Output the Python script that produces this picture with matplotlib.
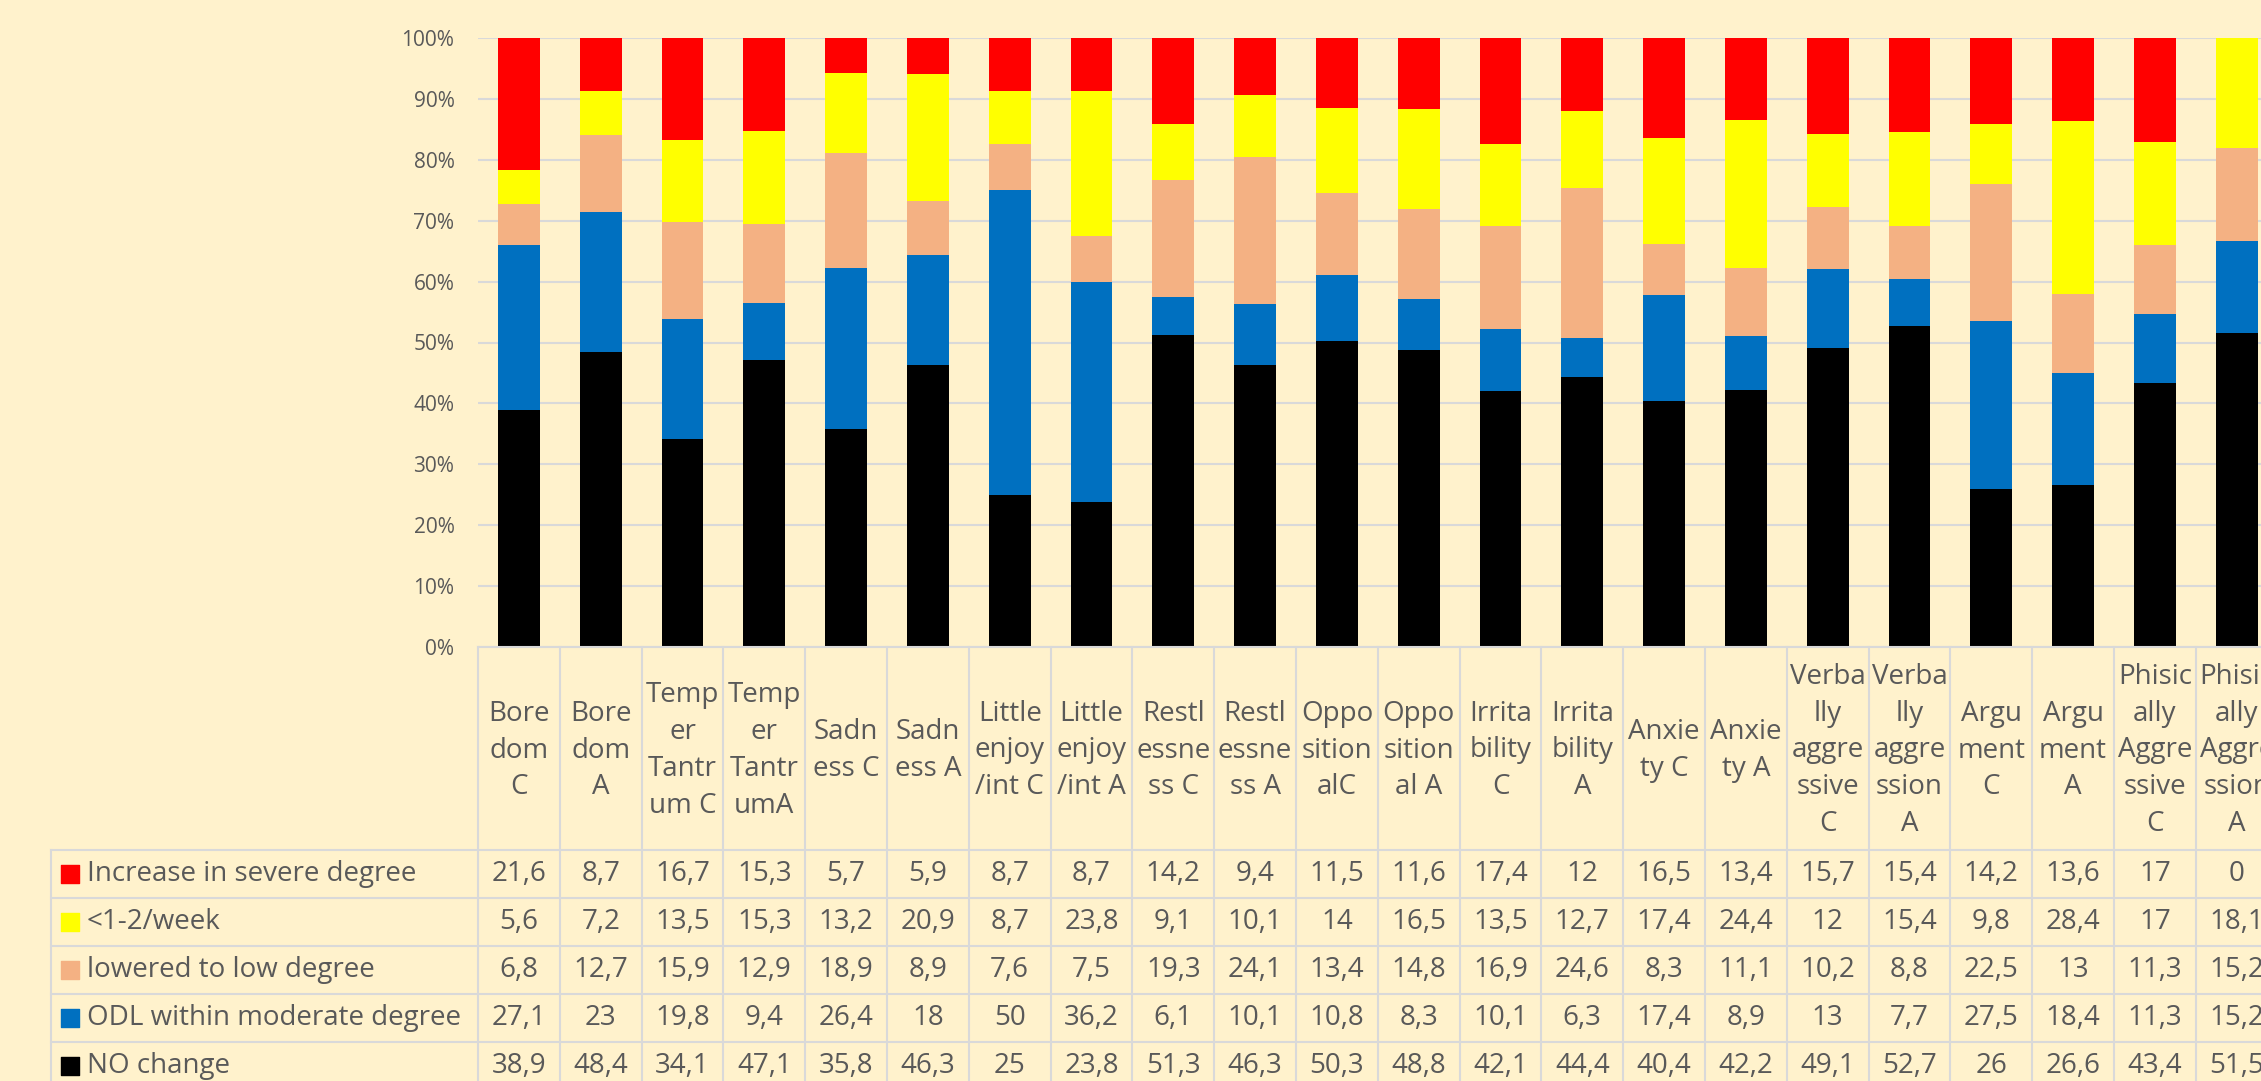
import numpy as np
import matplotlib.pyplot as plt

plt.rcParams['font.family'] = ['Open Sans', 'DejaVu Sans']

# category labels, wrapped the way the source table wraps them
labels = ["Bore\ndom\nC", "Bore\ndom\nA", "Temp\ner\nTantr\num C", "Temp\ner\nTantr\numA",
          "Sadn\ness C", "Sadn\ness A", "Little\nenjoy\n/int C", "Little\nenjoy\n/int A",
          "Restl\nessne\nss C", "Restl\nessne\nss A", "Oppo\nsition\nalC", "Oppo\nsition\nal A",
          "Irrita\nbility\nC", "Irrita\nbility\nA", "Anxie\nty C", "Anxie\nty A",
          "Verba\nlly\naggre\nssive\nC", "Verba\nlly\naggre\nssion\nA", "Argu\nment\nC", "Argu\nment\nA",
          "Phisic\nally\nAggre\nssive\nC", "Phisic\nally\nAggre\nssion\nA"]

increase = [21.6, 8.7, 16.7, 15.3, 5.7, 5.9, 8.7, 8.7, 14.2, 9.4, 11.5, 11.6, 17.4, 12, 16.5, 13.4,
            15.7, 15.4, 14.2, 13.6, 17, 0]
weekly = [5.6, 7.2, 13.5, 15.3, 13.2, 20.9, 8.7, 23.8, 9.1, 10.1, 14, 16.5, 13.5, 12.7, 17.4, 24.4,
          12, 15.4, 9.8, 28.4, 17, 18.1]
lowered = [6.8, 12.7, 15.9, 12.9, 18.9, 8.9, 7.6, 7.5, 19.3, 24.1, 13.4, 14.8, 16.9, 24.6, 8.3, 11.1,
           10.2, 8.8, 22.5, 13, 11.3, 15.2]
odl = [27.1, 23, 19.8, 9.4, 26.4, 18, 50, 36.2, 6.1, 10.1, 10.8, 8.3, 10.1, 6.3, 17.4, 8.9,
       13, 7.7, 27.5, 18.4, 11.3, 15.2]
no_change = [38.9, 48.4, 34.1, 47.1, 35.8, 46.3, 25, 23.8, 51.3, 46.3, 50.3, 48.8, 42.1, 44.4, 40.4, 42.2,
             49.1, 52.7, 26, 26.6, 43.4, 51.5]

series_names = ["Increase in severe degree", "<1-2/week", "lowered to low degree",
                "ODL within moderate degree", "NO change"]
series_vals = [increase, weekly, lowered, odl, no_change]
colors = ['#FF0000', '#FFFF00', '#F4B183', '#0070C0', '#000000']

BG = '#FFF2CC'
TXT = '#595959'
LINE = '#D9D9D9'
FS = 20

W, H = 2261, 1081
fig = plt.figure(figsize=(W / 100, H / 100), dpi=100, facecolor=BG)

col_w = 81.8
left = 478
base_y = 647
ax = fig.add_axes([left / W, (H - base_y) / H, 22 * col_w / W, (base_y - 38) / H])
ax.set_facecolor('none')

x = np.arange(len(labels))
data = np.array(series_vals, dtype=float)
totals = data.sum(axis=0)
bottom = np.zeros(len(labels))
# stack from the bottom row of the table upwards
for vals, color in zip(data[::-1], colors[::-1]):
    frac = vals / totals
    ax.bar(x, frac, 0.51, bottom=bottom, color=color, zorder=3)
    bottom += frac

ax.set_xlim(-0.5, len(labels) - 0.5)
ax.set_ylim(0, 1)
ticks = np.arange(0, 1.01, 0.1)
ax.set_yticks(ticks)
ax.set_yticklabels([f'{int(round(t * 100))}%' for t in ticks])
ax.tick_params(axis='y', length=0, pad=17, labelsize=15, labelcolor=TXT)
ax.set_xticks([])
ax.yaxis.grid(True, color=LINE, lw=1.5)
ax.set_axisbelow(True)
for s in ax.spines.values():
    s.set_visible(False)

# data table under the plot
tab = fig.add_axes([51 / W, 0, (left + 22 * col_w - 51) / W, (H - base_y) / H])
tab.set_facecolor('none')
leg_w = (left - 51) / col_w
x0 = -0.5 - leg_w
tab.set_xlim(x0, len(labels) - 0.5)
tab.set_ylim(H - base_y, 0)
tab.axis('off')

header_h = 203
row_h = 48

for i in range(len(labels) + 1):
    tab.plot([i - 0.5, i - 0.5], [0, H], color=LINE, lw=1.5, clip_on=False)
tab.plot([x0, x0], [header_h, H], color=LINE, lw=1.5, clip_on=False)
tab.plot([-0.5, len(labels) - 0.5], [0, 0], color=LINE, lw=1.5, clip_on=False)
for k in range(len(series_names) + 1):
    yy = header_h + k * row_h
    tab.plot([x0, len(labels) - 0.5], [yy, yy], color=LINE, lw=1.5, clip_on=False)

for i, lab in enumerate(labels):
    tab.text(i, header_h / 2 + 2, lab, ha='center', va='center', fontsize=FS,
             color=TXT, linespacing=1.42)

for k, (name, vals, color) in enumerate(zip(series_names, series_vals, colors)):
    yc = header_h + (k + 0.5) * row_h
    tab.scatter([x0 + 19 / col_w], [yc], marker='s', s=175, color=color, clip_on=False, zorder=4)
    tab.text(x0 + 36 / col_w, yc, name, ha='left', va='center', fontsize=FS, color=TXT)
    for i, v in enumerate(vals):
        tab.text(i, yc, f'{v:g}'.replace('.', ','), ha='center', va='center',
                 fontsize=FS, color=TXT)

fig.savefig('out.png', dpi=100, facecolor=BG)
